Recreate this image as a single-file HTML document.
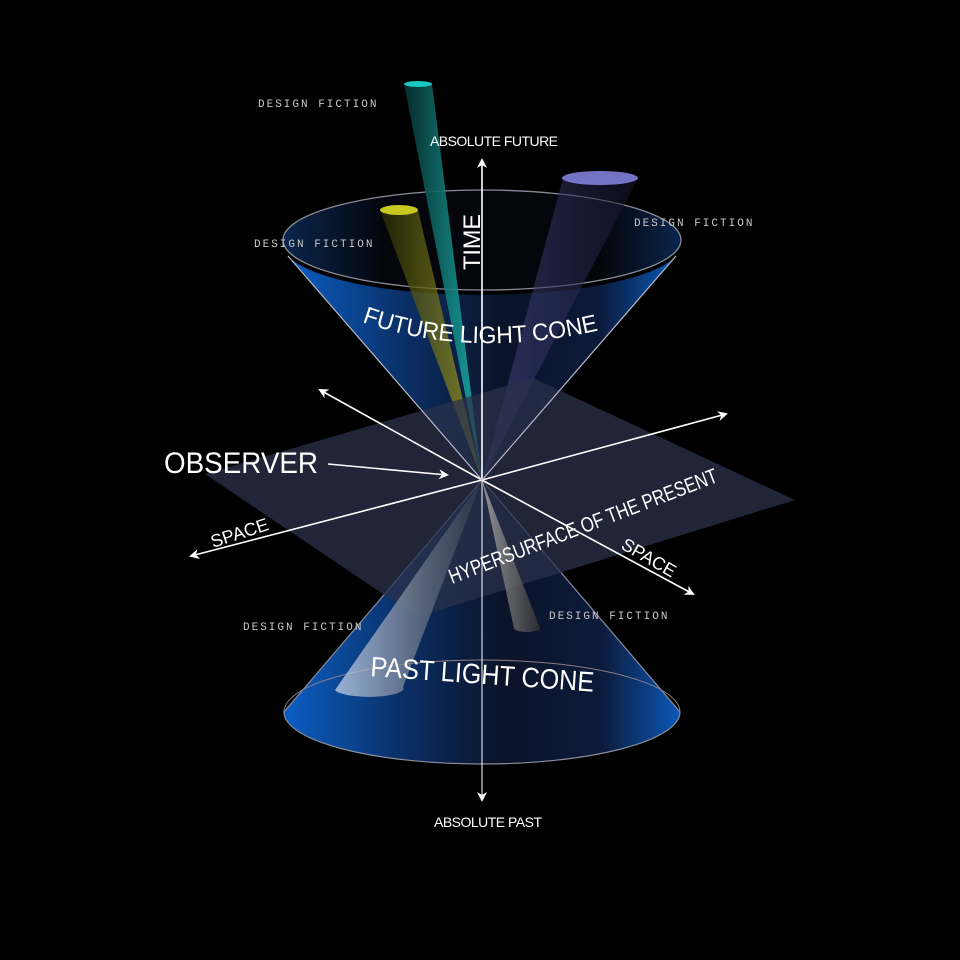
<!DOCTYPE html>
<html><head><style>html,body{margin:0;padding:0;background:#000}svg{display:block}</style></head><body>
<svg width="960" height="960" viewBox="0 0 960 960" xmlns="http://www.w3.org/2000/svg">
<defs>
<linearGradient id="cone" x1="0" y1="0" x2="1" y2="0">
<stop offset="0" stop-color="#0a5ec4"/><stop offset="0.3" stop-color="#0a2f66"/><stop offset="0.55" stop-color="#0b1328"/><stop offset="0.8" stop-color="#0c1a3a"/><stop offset="1" stop-color="#0a58b8"/></linearGradient>
<linearGradient id="top" x1="0" y1="0" x2="1" y2="0">
<stop offset="0" stop-color="#0b2a55"/><stop offset="0.25" stop-color="#05070e"/><stop offset="0.8" stop-color="#05070e"/><stop offset="1" stop-color="#0b2a55"/></linearGradient>
<linearGradient id="cy" x1="0" y1="0" x2="1" y2="0"><stop offset="0" stop-color="#06302f"/><stop offset="1" stop-color="#1bb5b0"/></linearGradient>
<linearGradient id="ye" x1="0" y1="0" x2="1" y2="0"><stop offset="0" stop-color="#2a2a05"/><stop offset="1" stop-color="#a7a526"/></linearGradient>
<linearGradient id="pu" x1="0" y1="0" x2="1" y2="0"><stop offset="0" stop-color="#4a4a8a"/><stop offset="1" stop-color="#15152c"/></linearGradient>
<linearGradient id="wh" x1="0" y1="0" x2="1" y2="0"><stop offset="0" stop-color="#c8d4e8"/><stop offset="1" stop-color="#2c3444"/></linearGradient>
<linearGradient id="gr" x1="0" y1="0" x2="1" y2="0"><stop offset="0" stop-color="#aaaaaa"/><stop offset="1" stop-color="#333"/></linearGradient>
<marker id="ar" markerWidth="10" markerHeight="10" refX="8" refY="5" orient="auto" markerUnits="userSpaceOnUse"><path d="M0,0 L10,5 L0,10 L3,5 Z" fill="#fff"/></marker>
<path id="fc" d="M362,322 Q470,360 600,330"/>
</defs>
<rect width="960" height="960" fill="#000"/>
<path d="M288,256 L482,480 L676,256 A199,50 0 0 1 288,256 Z" fill="url(#cone)"/>
<ellipse cx="482" cy="240" rx="199" ry="50" fill="url(#top)" opacity="0.9" stroke="#9a9aa8" stroke-width="1.3"/>
<path d="M482,480 L284,712 A198,52 0 0 0 680,712 Z" fill="url(#cone)" stroke="#8a8a9a" stroke-width="1.2"/>
<path d="M284,712 A198,52 0 0 1 680,712" fill="none" stroke="#8a7c88" stroke-width="1"/>
<path d="M404,84 L482,480 L432,84 Z" fill="url(#cy)" opacity="0.9"/>
<ellipse cx="418" cy="84" rx="14" ry="3" fill="#19c8c0"/>
<path d="M380,210 L482,480 L418,210 Z" fill="url(#ye)" opacity="0.75"/>
<ellipse cx="399" cy="210" rx="19" ry="5" fill="#c8c820"/>
<path d="M563,178 L482,480 L638,178 Z" fill="url(#pu)" opacity="0.55"/>
<ellipse cx="600" cy="178" rx="38" ry="7" fill="#8080d8" opacity="0.9"/>
<polygon points="205,474 533,378 795,500 417,617" fill="#2b324b" opacity="0.75"/>
<path d="M482,480 L335,690 A33,8 0 0 0 403,687 Z" fill="url(#wh)" opacity="0.75"/>
<path d="M482,480 L514,628 A13,4 0 0 0 540,628 Z" fill="url(#gr)" opacity="0.8"/>
<g stroke="#fff" stroke-width="1.6" fill="none" marker-end="url(#ar)">
<line x1="482" y1="480" x2="482" y2="160"/>
<line x1="482" y1="480" x2="482" y2="800" stroke-width="1"/>
<line x1="482" y1="480" x2="191" y2="556"/>
<line x1="482" y1="480" x2="726" y2="414"/>
<line x1="482" y1="480" x2="320" y2="390"/>
<line x1="482" y1="480" x2="693" y2="594"/>
<line x1="328" y1="464" x2="447" y2="475"/>
</g>
<line x1="288" y1="256" x2="482" y2="480" stroke="#b8b8c8" stroke-width="1.2"/>
<line x1="676" y1="256" x2="482" y2="480" stroke="#b8b8c8" stroke-width="1.2"/>
<g font-family="Liberation Sans, sans-serif" fill="#fff">
<text x="430" y="146" font-size="14" textLength="128">ABSOLUTE FUTURE</text>
<text x="434" y="827" font-size="14" textLength="108">ABSOLUTE PAST</text>
<text x="164" y="473" font-size="30" textLength="154" lengthAdjust="spacingAndGlyphs">OBSERVER</text>
<text transform="translate(480,270) rotate(-90)" font-size="24" textLength="56" lengthAdjust="spacingAndGlyphs">TIME</text>
<text transform="translate(213,548) rotate(-18)" font-size="18">SPACE</text>
<text transform="translate(620,548) rotate(30)" font-size="18">SPACE</text>
<text transform="translate(452,584) rotate(-21)" font-size="21" textLength="286" lengthAdjust="spacingAndGlyphs">HYPERSURFACE OF THE PRESENT</text>
<text font-size="24"><textPath href="#fc" textLength="240" lengthAdjust="spacingAndGlyphs">FUTURE LIGHT CONE</textPath></text>
<text transform="translate(370,676) rotate(4)" font-size="28" textLength="224" lengthAdjust="spacingAndGlyphs">PAST LIGHT CONE</text>
</g>
<g font-family="Liberation Mono, monospace" fill="#c8c8c8" font-size="11" letter-spacing="2">
<text x="258" y="107">DESIGN FICTION</text>
<text x="254" y="247">DESIGN FICTION</text>
<text x="634" y="226">DESIGN FICTION</text>
<text x="243" y="630">DESIGN FICTION</text>
<text x="549" y="619">DESIGN FICTION</text>
</g>
</svg>
</body></html>
